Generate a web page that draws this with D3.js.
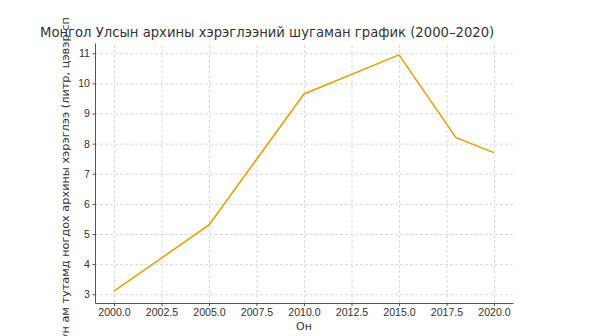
<!DOCTYPE html>
<html>
<head>
<meta charset="utf-8">
<script src="https://cdn.jsdelivr.net/npm/d3@7"></script>
<style>
  body { margin: 0; background: #fff; }
  svg { font-family: "DejaVu Sans", sans-serif; }
  .grid line { stroke: #d0d0d0; stroke-dasharray: 3,2; stroke-width: 0.8; }
  .grid path { display: none; }
  .axis text { fill: #333; font-size: 10.6px; }
  .axis line, .axis path { stroke: #555; }
</style>
</head>
<body>
<div id="vis"></div>
<script>
// data
const years = [2000, 2005, 2010, 2015, 2018, 2020];
const litres = [3.1, 5.3, 9.65, 10.95, 8.2, 7.7];
const xTicks = [2000, 2002.5, 2005, 2007.5, 2010, 2012.5, 2015, 2017.5, 2020];
const yTicks = [3, 4, 5, 6, 7, 8, 9, 10, 11];

const FRAME_WIDTH = 600;
const FRAME_HEIGHT = 336;
const MARGINS = {left: 95, right: 87, top: 43, bottom: 33};
const VIS_WIDTH = FRAME_WIDTH - MARGINS.left - MARGINS.right;
const VIS_HEIGHT = FRAME_HEIGHT - MARGINS.top - MARGINS.bottom;

const data = years.map((y, i) => ({year: y, value: litres[i]}));

const svg = d3.select("#vis")
  .append("svg")
  .attr("width", FRAME_WIDTH)
  .attr("height", FRAME_HEIGHT);

// matplotlib-ish 5% padding
const xPad = (d3.max(years) - d3.min(years)) * 0.05;
const yPad = (d3.max(litres) - d3.min(litres)) * 0.05;

const X_SCALE = d3.scaleLinear()
  .domain([d3.min(years) - xPad, d3.max(years) + xPad])
  .range([0, VIS_WIDTH]);
const Y_SCALE = d3.scaleLinear()
  .domain([d3.min(litres) - yPad, d3.max(litres) + yPad])
  .range([VIS_HEIGHT, 0]);

const g = svg.append("g")
  .attr("transform", "translate(" + MARGINS.left + "," + MARGINS.top + ")");

// grid
g.append("g")
  .attr("class", "grid")
  .attr("transform", "translate(0," + VIS_HEIGHT + ")")
  .call(d3.axisBottom(X_SCALE).tickValues(xTicks).tickSize(-VIS_HEIGHT).tickFormat(""));
g.append("g")
  .attr("class", "grid")
  .call(d3.axisLeft(Y_SCALE).tickValues(yTicks).tickSize(-VIS_WIDTH).tickFormat(""));

// line
const line = d3.line()
  .x(d => X_SCALE(d.year))
  .y(d => Y_SCALE(d.value));

g.append("path")
  .datum(data)
  .attr("fill", "none")
  .attr("stroke", "#e69f00")
  .attr("stroke-width", 1.5)
  .attr("d", line);

// axes
g.append("g")
  .attr("class", "axis")
  .attr("transform", "translate(0," + VIS_HEIGHT + ")")
  .call(d3.axisBottom(X_SCALE).tickValues(xTicks).tickSize(3).tickPadding(2.5).tickSizeOuter(0).tickFormat(d3.format(".1f")));
g.append("g")
  .attr("class", "axis")
  .call(d3.axisLeft(Y_SCALE).tickValues(yTicks).tickSize(2.5).tickPadding(2.5).tickSizeOuter(0).tickFormat(d3.format("d")));

// labels
svg.append("text")
  .attr("x", 40)
  .attr("y", 36.5)
  .attr("font-size", "13.2px")
  .attr("fill", "#333")
  .text("Монгол Улсын архины хэрэглээний шугаман график (2000–2020)");

svg.append("text")
  .attr("x", MARGINS.left + VIS_WIDTH / 2)
  .attr("y", 330)
  .attr("text-anchor", "middle")
  .attr("font-size", "11px")
  .attr("fill", "#333")
  .text("Он");

// y label is clipped at the top like in the original
svg.append("clipPath")
  .attr("id", "ylab-clip")
  .append("rect")
  .attr("x", 0).attr("y", 18)
  .attr("width", 95).attr("height", FRAME_HEIGHT - 18);

svg.append("g")
  .attr("clip-path", "url(#ylab-clip)")
  .append("text")
  .attr("transform", "translate(68.5,348) rotate(-90)")
  .attr("font-size", "11.3px")
  .attr("fill", "#333")
  .text("Хүн ам тутамд ногдох архины хэрэглээ (литр, цэвэр спирт)");
</script>
</body>
</html>
